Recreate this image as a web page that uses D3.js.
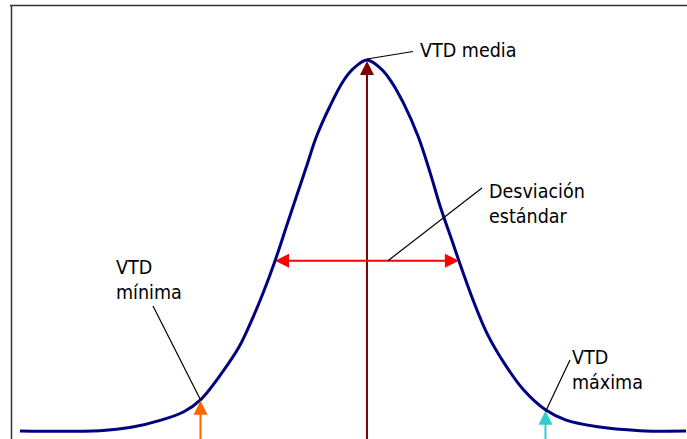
<!DOCTYPE html>
<html>
<head>
<meta charset="utf-8">
<script src="https://cdn.jsdelivr.net/npm/d3@7"></script>
<style>
  html, body { margin: 0; padding: 0; background: #fff; }
  svg { display: block; }
  text { font-family: "DejaVu Sans Condensed", "DejaVu Sans", sans-serif; font-size: 19.5px; fill: #000; }
</style>
</head>
<body>
<svg id="chart" width="687" height="439"></svg>
<script>
// Bell curve (x: 0..100 across the plot, y: 0..100 relative height)
const curveX = [0, 12, 16.7, 21.3, 24.6, 27.1, 30.6, 32.9, 34.8, 36.5, 38.3, 40, 41.5, 43, 44.5, 46.5, 48.5, 50.0, 52.1,
                54.1, 55.6, 57.6, 59.8, 61.6, 63.1, 65.0, 65.9, 68.2, 70.1, 72.7, 75.6, 78.9, 81.9, 86.5, 93.1, 100];
const curveY = [0, 0.1, 1, 3, 5.2, 8.4, 16.4, 22.7, 29.9, 37.2, 45.9, 55.1, 63.2, 71.2, 79.3, 87.4, 94.2, 97.6, 100,
                97.8, 94.6, 88.3, 79.3, 69.5, 60.5, 50.6, 45.9, 34.5, 26.4, 18.3, 11.1, 5.7, 3, 1.2, 0.1, 0];

// marked values
const markNames = ['mean', 'min', 'max'];
const markX = [52.1, 27.1, 78.9];
const markY = [100, 8.4, 5.7];
const sdRange = [38.3, 65.9];
const sdLevel = 45.9;

const labelMedia = ['VTD media'];
const labelSd = ['Desviación', 'estándar'];
const labelMin = ['VTD', 'mínima'];
const labelMax = ['VTD', 'máxima'];

const svg = d3.select('#chart');
const x = d3.scaleLinear().domain([0, 100]).range([20, 686]);
const y = d3.scaleLinear().domain([0, 100]).range([431, 60]);

// frame (top and left edges only are visible)
svg.append('line').attr('x1', 10).attr('x2', 687).attr('y1', 5.5).attr('y2', 5.5)
   .attr('stroke', '#333').attr('stroke-width', 1.5);
svg.append('line').attr('x1', 11.5).attr('x2', 11.5).attr('y1', 5).attr('y2', 439)
   .attr('stroke', '#333').attr('stroke-width', 1.5);

const data = curveX.map((d, i) => ({ x: d, y: curveY[i] }));

function upArrow(cx, tipY, color, w, h, lw) {
    svg.append('line').attr('x1', cx).attr('x2', cx).attr('y1', 440).attr('y2', tipY + h - 1)
       .attr('stroke', color).attr('stroke-width', lw);
    svg.append('path')
       .attr('d', 'M' + cx + ',' + tipY + 'L' + (cx - w / 2) + ',' + (tipY + h) + 'L' + (cx + w / 2) + ',' + (tipY + h) + 'Z')
       .attr('fill', color);
}

// mean arrow (drawn before the curve so the curve sits on top at the peak)
upArrow(x(markX[0]), y(markY[0]) + 1, '#800000', 14, 14, 2);

// standard deviation arrow
const sy = y(sdLevel);
const sx0 = x(sdRange[0]), sx1 = x(sdRange[1]);
svg.append('line').attr('x1', sx0 + 10).attr('x2', sx1 - 10).attr('y1', sy).attr('y2', sy)
   .attr('stroke', '#ff0000').attr('stroke-width', 2);
svg.append('path').attr('d', 'M' + sx0 + ',' + sy + 'L' + (sx0 + 14) + ',' + (sy - 7) + 'L' + (sx0 + 14) + ',' + (sy + 7) + 'Z')
   .attr('fill', '#ff0000');
svg.append('path').attr('d', 'M' + sx1 + ',' + sy + 'L' + (sx1 - 14) + ',' + (sy - 7) + 'L' + (sx1 - 14) + ',' + (sy + 7) + 'Z')
   .attr('fill', '#ff0000');

// the curve
svg.append('path').datum(data)
   .attr('d', d3.line().x(d => x(d.x)).y(d => y(d.y)).curve(d3.curveCatmullRom.alpha(0.5)))
   .attr('fill', 'none').attr('stroke', '#000080').attr('stroke-width', 3);

// min / max arrows
upArrow(x(markX[1]), y(markY[1]) + 1, '#ff6600', 14, 14, 2);
upArrow(x(markX[2]), y(markY[2]) + 1, '#33cccc', 14, 14, 2);

// leader lines
function leader(x1, y1, x2, y2) {
    svg.append('line').attr('x1', x1).attr('y1', y1).attr('x2', x2).attr('y2', y2)
       .attr('stroke', '#000').attr('stroke-width', 1.2);
}
leader(x(markX[0]), y(markY[0]) - 1, 413, 51.5);
leader(482, 188, x((sdRange[0] + sdRange[1]) / 2) + 21, sy);
leader(153, 306, x(markX[1]), y(markY[1]));
leader(570, 360, x(markX[2]), y(markY[2]) + 2);

function label(lines, tx, ty) {
    const t = svg.append('text').attr('x', tx).attr('y', ty);
    lines.forEach((s, i) => {
        t.append('tspan').attr('x', tx).attr('dy', i === 0 ? 0 : 24.5).text(s);
    });
}
label(labelMedia, 420, 57);
label(labelSd, 489, 198);
label(labelMin, 116, 274);
label(labelMax, 572, 364);
</script>
</body>
</html>
